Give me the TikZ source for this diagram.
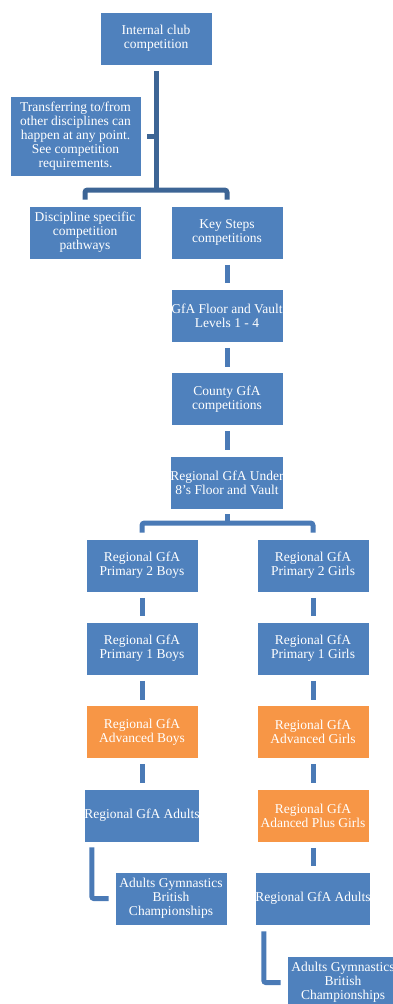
\documentclass[tikz,border=0pt]{standalone}
\usepackage{fontspec}
\setmainfont{Liberation Serif}
\usetikzlibrary{calc}
\definecolor{boxblue}{HTML}{4F81BD}
\definecolor{boxorange}{HTML}{F79646}
\definecolor{connblue}{HTML}{4A7AB6}
\definecolor{darkconn}{HTML}{3D6595}
\begin{document}
\begin{tikzpicture}[x=1pt,y=-1pt,
  box/.style={rectangle, fill=boxblue, draw=white, line width=0.8pt, text=white,
    minimum width=112pt, minimum height=53pt, inner sep=0pt, align=center,
    font=\fontsize{13.5}{14}\selectfont},
  obox/.style={box, fill=boxorange},
  conn/.style={draw=connblue, line width=5pt},
  dconn/.style={draw=darkconn, line width=5pt}]
\useasboundingbox (0,0) rectangle (393,1004);
\clip (0,0) rectangle (393,1004);
% nodes
\node[box] (top) at (156,38.5) {Internal club\\competition};
\node[box, minimum width=131pt, minimum height=80pt] (note) at (75.5,136) {Transferring to/from\\other disciplines can\\happen at any point.\\See competition\\requirements.};
\node[box] (disc) at (85,232.5) {Discipline specific\\competition\\pathways};
\node[box] (key) at (227,232.5) {Key Steps\\competitions};
\node[box] (floor) at (227,315.5) {GfA Floor and Vault\\Levels 1 - 4};
\node[box] (county) at (227,399) {County GfA\\competitions};
\node[box] (u8) at (227,482.5) {Regional GfA Under\\8\char"27 s Floor and Vault};
\node[box] (p2b) at (142,565.5) {Regional GfA\\Primary 2 Boys};
\node[box] (p2g) at (313,565.5) {Regional GfA\\Primary 2 Girls};
\node[box] (p1b) at (142,648.5) {Regional GfA\\Primary 1 Boys};
\node[box] (p1g) at (313,648.5) {Regional GfA\\Primary 1 Girls};
\node[obox] (advb) at (142,732) {Regional GfA\\Advanced Boys};
\node[obox] (advg) at (313,732) {Regional GfA\\Advanced Girls};
\node[box] (adb) at (142,815.5) {Regional GfA Adults};
\node[obox] (advp) at (313,815.5) {Regional GfA\\Adanced Plus Girls};
\node[box] (agb) at (171,898.5) {Adults Gymnastics\\British\\Championships};
\node[box] (adg) at (313,898.5) {Regional GfA Adults};
\node[box] (agg) at (343,982.5) {Adults Gymnastics\\British\\Championships};
% top tree
\coordinate (j1) at (156,190);
\draw[dconn] ($(top.south)+(0,6)$) -- (j1);
\draw[dconn] ($(note.east)+(6,0)$) -- (156,136);
\draw[dconn, rounded corners=2.5pt] ($(disc.north)+(0,-6)$) |- (j1) -| ($(key.north)+(0,-6)$);
% chain
\foreach \a/\b in {key/floor, floor/county, county/u8, p2b/p1b, p1b/advb, advb/adb, p2g/p1g, p1g/advg, advg/advp, advp/adg}
  \draw[conn, shorten <=5.5pt, shorten >=5.5pt] (\a) -- (\b);
% split
\coordinate (j2) at (227,523);
\draw[conn] ($(u8.south)+(0,5)$) -- (j2);
\draw[conn, rounded corners=2.5pt] ($(p2b.north)+(0,-6)$) |- (j2) -| ($(p2g.north)+(0,-6)$);
% L connectors
\draw[conn, rounded corners=2pt] ($(adb.south west)+(8,5)$) |- ($(agb.west)+(-6,0)$);
\draw[conn, rounded corners=2pt] ($(adg.south west)+(9,6)$) |- ($(agg.west)+(-6,0)$);
\end{tikzpicture}
\end{document}
